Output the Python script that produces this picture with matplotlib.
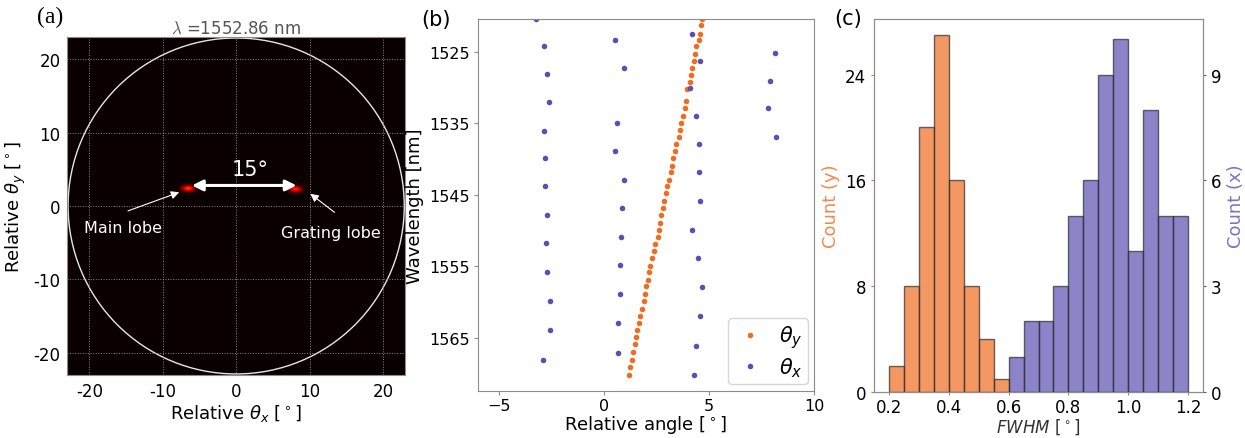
import numpy as np
import matplotlib
matplotlib.use("Agg")
import matplotlib.pyplot as plt
from matplotlib.patches import Circle

# ── Données ──
# (a) far field at 1552.86 nm : lobe centres (deg) and visible-cone radius
lobe_x = [-6.5, 8.1]
lobe_y = [2.4, 2.3]
lobe_amp = [1.0, 0.9]
cone_radius = 22.9

# (b) steering vs wavelength
theta_y_wl = [1520.4, 1521.3, 1522.5, 1523.4, 1524.2, 1525.3, 1526.3, 1527.2, 1528.2, 1529.2,
              1530.2, 1531.9, 1532.9, 1534.0, 1535.0, 1535.9, 1536.9, 1537.9, 1538.9, 1539.9,
              1540.9, 1541.8, 1542.9, 1543.8, 1544.8, 1545.8, 1546.8, 1547.8, 1548.9, 1549.9,
              1550.9, 1551.9, 1552.9, 1553.8, 1554.9, 1555.8, 1556.9, 1557.8, 1558.9, 1559.8,
              1560.9, 1561.9, 1562.9, 1563.9, 1564.9, 1565.9, 1567.0, 1568.1, 1569.1, 1570.2]
theta_y_deg = [4.65, 4.62, 4.56, 4.51, 4.40, 4.35, 4.29, 4.21, 4.14, 4.10,
               3.97, 3.89, 3.84, 3.75, 3.67, 3.62, 3.56, 3.43, 3.37, 3.29,
               3.24, 3.18, 3.08, 3.02, 2.95, 2.87, 2.81, 2.73, 2.68, 2.62,
               2.56, 2.43, 2.37, 2.30, 2.19, 2.14, 2.10, 2.03, 1.95, 1.90,
               1.84, 1.73, 1.68, 1.60, 1.54, 1.49, 1.38, 1.33, 1.24, 1.19]

theta_x_wl = [1520.4, 1522.5, 1523.4, 1524.2, 1525.2, 1526.3, 1527.2, 1528.1, 1529.1, 1530.1,
              1532.0, 1532.9, 1534.0, 1535.0, 1536.0, 1536.9, 1537.9, 1538.9, 1539.8, 1541.8,
              1542.9, 1543.8, 1545.8, 1546.8, 1547.8, 1549.9, 1550.9, 1551.8, 1553.9, 1554.8,
              1555.8, 1557.9, 1558.8, 1559.8, 1561.9, 1562.9, 1563.9, 1566.1, 1567.1, 1568.1,
              1570.2]
theta_x_deg = [-3.25, 4.21, 0.52, -2.84, 8.13, 4.60, 0.94, -2.70, 7.90, 4.10,
               -2.59, 7.83, 4.38, 0.62, -2.84, 8.18, 4.51, 0.52, -2.79, 4.51,
               0.94, -2.79, 4.60, 0.87, -2.70, 4.21, 0.83, -2.76, 4.49, 0.76,
               -2.70, 4.65, 0.76, -2.54, 4.60, 0.68, -2.54, 4.40, 0.68, -2.89,
               4.30]

# (c) FWHM histograms
bins_y = [0.20, 0.25, 0.30, 0.35, 0.40, 0.45, 0.50, 0.55, 0.60]
counts_y = [2, 8, 20, 27, 16, 8, 4, 1]
bins_x = [0.60, 0.65, 0.70, 0.75, 0.80, 0.85, 0.90, 0.95, 1.00, 1.05, 1.10, 1.15, 1.20]
counts_x = [1, 2, 2, 3, 5, 6, 9, 10, 4, 8, 5, 5]

ORANGE = "#ef6c21"
PURPLE = "#5a50b2"
SPINE = "#8c8c8c"

plt.rcParams["font.family"] = "DejaVu Sans"
plt.rcParams["axes.edgecolor"] = SPINE

fig = plt.figure(figsize=(12.45, 4.39), dpi=100)

# ── (a) champ lointain ──
ax_a = fig.add_axes([0.0541, 0.1442, 0.2712, 0.7686])
gx = np.linspace(-23, 23, 700)
gy = np.linspace(-23, 23, 700)
XX, YY = np.meshgrid(gx, gy)
field = np.zeros_like(XX)
for cx, cy, amp in zip(lobe_x, lobe_y, lobe_amp):
    field += amp * np.exp(-((XX - cx) ** 2 / (2 * 0.6 ** 2) + (YY - cy) ** 2 / (2 * 0.3 ** 2)))
ax_a.imshow(field, cmap="hot", vmin=0, vmax=2.1, origin="lower",
            extent=[-23, 23, -23, 23], aspect="auto", interpolation="bilinear")
ax_a.add_patch(Circle((0, 0), cone_radius, fill=False, ec="#e6e6e6", lw=1.0))
ax_a.set_xlim(-23, 23)
ax_a.set_ylim(-23, 23)
ax_a.set_xticks([-20, -10, 0, 10, 20])
ax_a.set_yticks([-20, -10, 0, 10, 20])
ax_a.set_xticklabels(["-20", "-10", "0", "10", "20"])
ax_a.set_yticklabels(["-20", "-10", "0", "10", "20"])
ax_a.grid(True, ls=":", color="#a0a0a0", lw=0.7, alpha=0.85)
ax_a.tick_params(labelsize=12, length=0, pad=5)
ax_a.set_xlabel(r"Relative $\theta_x$ [$^\circ$]", fontsize=13, labelpad=2)
ax_a.set_ylabel(r"Relative $\theta_y$ [$^\circ$]", fontsize=13, labelpad=4)
ax_a.set_title(r"$\lambda$ =1552.86 nm", fontsize=12, color="#555555", pad=3,
               math_fontfamily="cm")

ax_a.annotate("", xy=(8.6, 2.8), xytext=(-6.4, 2.8),
              arrowprops=dict(arrowstyle="<|-|>", color="white", lw=2.2, mutation_scale=16))
ax_a.text(1.9, 5.0, "15°", color="white", fontsize=15, ha="center", va="center")
ax_a.annotate("", xy=(-7.4, 2.0), xytext=(-15.1, -0.8),
              arrowprops=dict(arrowstyle="-|>", color="white", lw=0.8, mutation_scale=12))
ax_a.text(-15.4, -3.0, "Main lobe", color="white", fontsize=11.5, ha="center", va="center")
ax_a.annotate("", xy=(9.8, 1.9), xytext=(13.7, -1.1),
              arrowprops=dict(arrowstyle="-|>", color="white", lw=0.8, mutation_scale=12))
ax_a.text(12.9, -3.6, "Grating lobe", color="white", fontsize=11.5, ha="center", va="center")

# ── (b) angle vs longueur d'onde ──
ax_b = fig.add_axes([0.3837, 0.1077, 0.2701, 0.8467])
ax_b.plot(theta_y_deg, theta_y_wl, "o", color=ORANGE, ms=4, mec="none", label=r"$\theta_y$")
ax_b.plot(theta_x_deg, theta_x_wl, "o", color=PURPLE, ms=4, mec="none", label=r"$\theta_x$")
ax_b.set_xlim(-6, 10)
ax_b.set_ylim(1572.4, 1520.4)
ax_b.set_xticks([-5, 0, 5, 10])
ax_b.set_yticks([1525, 1535, 1545, 1555, 1565])
ax_b.tick_params(labelsize=11.5, length=3, color=SPINE, pad=2.5)
ax_b.set_xlabel(r"Relative angle [$^\circ$]", fontsize=13, labelpad=0)
ax_b.set_ylabel("Wavelength [nm]", fontsize=13, labelpad=4)
ax_b.legend(loc="lower right", fontsize=15, handletextpad=0.6, borderpad=0.25,
            labelspacing=0.25, handlelength=1.6, borderaxespad=0.3)

# ── (c) histogrammes FWHM ──
ax_c = fig.add_axes([0.7020, 0.1048, 0.2643, 0.8497])
ax_c2 = ax_c.twinx()
ax_c.bar(bins_y[:-1], counts_y, width=np.diff(bins_y), align="edge",
         color=ORANGE, alpha=0.7, edgecolor="#2a2a2a", lw=1.0)
ax_c2.bar(bins_x[:-1], counts_x, width=np.diff(bins_x), align="edge",
          color=PURPLE, alpha=0.7, edgecolor="#2a2a2a", lw=1.0)
ax_c.set_xlim(0.15, 1.25)
ax_c.set_ylim(0, 28.2)
ax_c2.set_ylim(0, 28.2 * 3 / 8)
ax_c.set_xticks([0.2, 0.4, 0.6, 0.8, 1.0, 1.2])
ax_c.set_yticks([0, 8, 16, 24])
ax_c2.set_yticks([0, 3, 6, 9])
ax_c.tick_params(axis="x", labelsize=12, length=2, color=SPINE, pad=2.5)
ax_c.tick_params(axis="y", labelsize=12, length=2, color=ORANGE)
ax_c2.tick_params(axis="y", labelsize=12, length=2, color=PURPLE)
ax_c.set_ylabel("Count (y)", fontsize=13, color="#f2894a", labelpad=4)
ax_c2.set_ylabel("Count (x)", fontsize=13, color="#7a73c4", labelpad=4)
ax_c.set_xlabel(r"$FWHM$ [$^\circ$]", fontsize=12, color="#333333", labelpad=0)

# ── Étiquettes des panneaux ──
fig.text(0.040, 0.961, "(a)", fontsize=17, family="Liberation Serif", ha="center", va="center")
fig.text(0.350, 0.954, "(b)", fontsize=15, ha="center", va="center")
fig.text(0.681, 0.957, "(c)", fontsize=15, ha="center", va="center")

fig.savefig("out.png", dpi=100)
